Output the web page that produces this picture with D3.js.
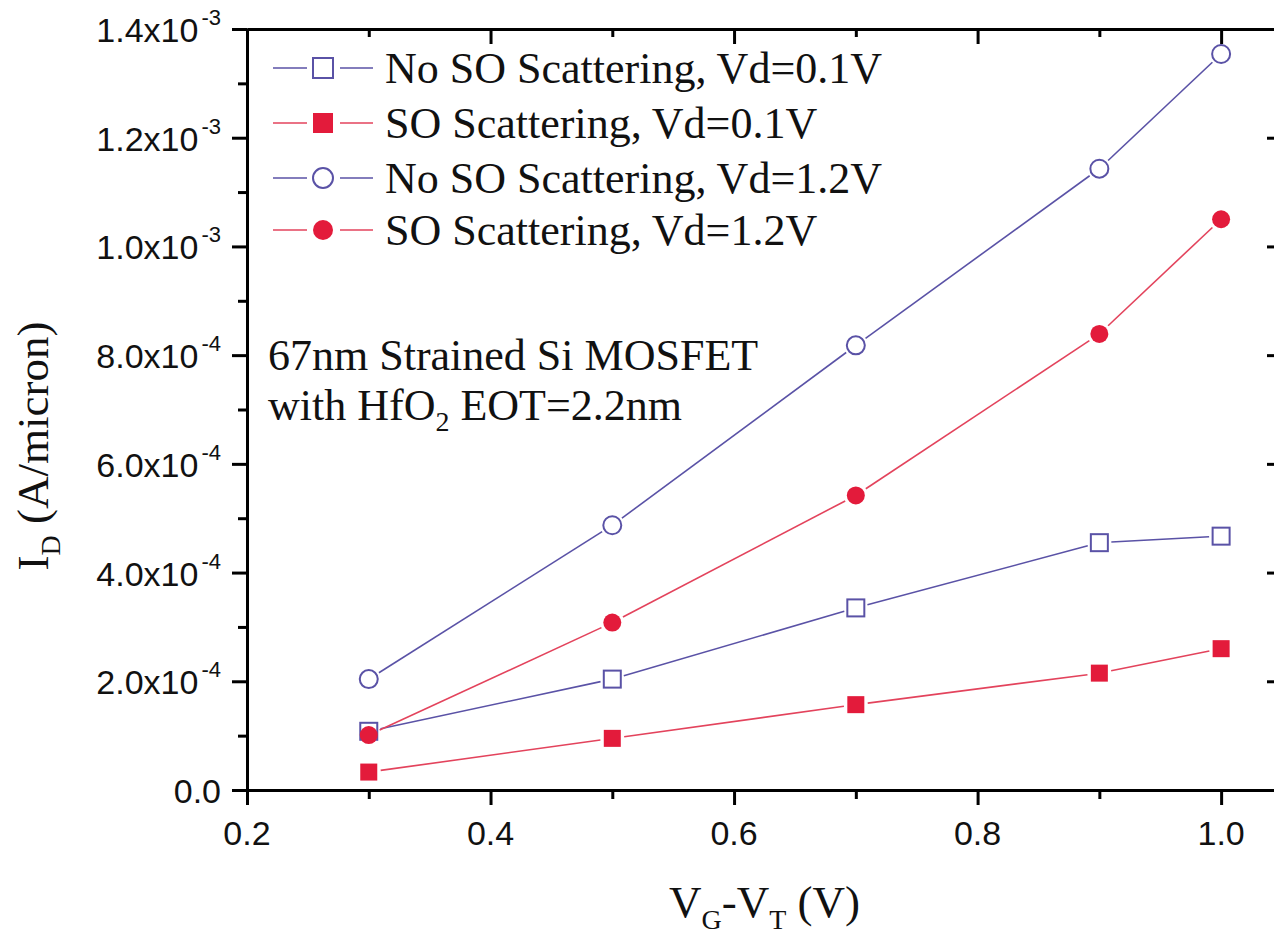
<!DOCTYPE html>
<html>
<head>
<meta charset="utf-8">
<script src="https://cdn.jsdelivr.net/npm/d3@7"></script>
<style>
  html, body { margin: 0; padding: 0; background: #ffffff; }
  svg { display: block; }
</style>
</head>
<body>
<svg id="chart" width="1274" height="938"></svg>
<script>
// ---------- data ----------
const xValues = [0.3, 0.5, 0.7, 0.9, 1.0];
const noSO_Vd01 = [1.08e-4, 2.04e-4, 3.35e-4, 4.55e-4, 4.67e-4];
const SO_Vd01   = [3.3e-5, 9.5e-5, 1.57e-4, 2.15e-4, 2.60e-4];
const noSO_Vd12 = [2.04e-4, 4.87e-4, 8.18e-4, 1.143e-3, 1.354e-3];
const SO_Vd12   = [1.01e-4, 3.08e-4, 5.42e-4, 8.39e-4, 1.050e-3];
const seriesNames = [
  "No SO Scattering, Vd=0.1V",
  "SO Scattering, Vd=0.1V",
  "No SO Scattering, Vd=1.2V",
  "SO Scattering, Vd=1.2V"
];
const xTickValues = [0.2, 0.4, 0.6, 0.8, 1.0];
const xTickLabels = ["0.2", "0.4", "0.6", "0.8", "1.0"];
const xMinorValues = [0.3, 0.5, 0.7, 0.9];
const yTickValues = [0, 2e-4, 4e-4, 6e-4, 8e-4, 1.0e-3, 1.2e-3, 1.4e-3];
const yTickMantissa = ["0.0", "2.0x10", "4.0x10", "6.0x10", "8.0x10", "1.0x10", "1.2x10", "1.4x10"];
const yTickExponent = ["", "-4", "-4", "-4", "-4", "-3", "-3", "-3"];
const yMinorValues = [1e-4, 3e-4, 5e-4, 7e-4, 9e-4, 1.1e-3, 1.3e-3];

// ---------- styling ----------
const PURPLE = "#5a52a6";
const RED = "#e31b3b";
const RED_LINE = "#e3435c";
const SANS = "'Liberation Sans', Arial, Helvetica, sans-serif";
const SERIF = "'Liberation Serif', 'Times New Roman', Times, serif";

const series = [
  { name: seriesNames[0], values: noSO_Vd01, shape: "square", filled: false, color: PURPLE, line: PURPLE },
  { name: seriesNames[1], values: SO_Vd01,   shape: "square", filled: true,  color: RED,    line: RED_LINE },
  { name: seriesNames[2], values: noSO_Vd12, shape: "circle", filled: false, color: PURPLE, line: PURPLE },
  { name: seriesNames[3], values: SO_Vd12,   shape: "circle", filled: true,  color: RED,    line: RED_LINE }
];

const svg = d3.select("#chart");
const pLeft = 247, pRight = 1282, pTop = 29, pBottom = 790;

const x = d3.scaleLinear().domain([0.2, 1.05]).range([pLeft, pRight]);
const y = d3.scaleLinear().domain([0, 1.4e-3]).range([pBottom, pTop]);

// ---------- axes ----------
function styleAxis(g) {
  g.selectAll("path.domain").attr("stroke", "#000").attr("stroke-width", 3);
  g.selectAll(".tick line").attr("stroke", "#000").attr("stroke-width", 3);
  g.selectAll(".tick text").remove();
}
// bottom (outward ticks)
svg.append("g").attr("transform", `translate(0,${pBottom})`)
  .call(d3.axisBottom(x).tickValues(xMinorValues).tickSize(9).tickSizeOuter(0).tickFormat(""))
  .call(styleAxis);
svg.append("g").attr("transform", `translate(0,${pBottom})`)
  .call(d3.axisBottom(x).tickValues(xTickValues).tickSize(15).tickSizeOuter(0).tickFormat(""))
  .call(styleAxis);
// top (inward ticks)
svg.append("g").attr("transform", `translate(0,${pTop})`)
  .call(d3.axisBottom(x).tickValues(xMinorValues).tickSize(8).tickSizeOuter(0).tickFormat(""))
  .call(styleAxis);
svg.append("g").attr("transform", `translate(0,${pTop})`)
  .call(d3.axisBottom(x).tickValues(xTickValues).tickSize(15).tickSizeOuter(0).tickFormat(""))
  .call(styleAxis);
// left (outward ticks)
svg.append("g").attr("transform", `translate(${pLeft},0)`)
  .call(d3.axisLeft(y).tickValues(yMinorValues).tickSize(9).tickSizeOuter(0).tickFormat(""))
  .call(styleAxis);
svg.append("g").attr("transform", `translate(${pLeft},0)`)
  .call(d3.axisLeft(y).tickValues(yTickValues).tickSize(15).tickSizeOuter(0).tickFormat(""))
  .call(styleAxis);
// right (inward ticks)
svg.append("g").attr("transform", `translate(${pRight},0)`)
  .call(d3.axisLeft(y).tickValues(yMinorValues).tickSize(8).tickSizeOuter(0).tickFormat(""))
  .call(styleAxis);
svg.append("g").attr("transform", `translate(${pRight},0)`)
  .call(d3.axisLeft(y).tickValues(yTickValues).tickSize(15).tickSizeOuter(0).tickFormat(""))
  .call(styleAxis);

// x tick labels
svg.append("g").selectAll("text").data(xTickValues).join("text")
  .attr("x", d => x(d)).attr("y", pBottom + 55)
  .attr("text-anchor", "middle")
  .style("font-family", SANS).style("font-size", "34px").attr("fill", "#111")
  .text((d, i) => xTickLabels[i]);

// y tick labels
const yl = svg.append("g").selectAll("text").data(yTickValues).join("text")
  .attr("x", 221).attr("y", d => y(d) + 13)
  .attr("text-anchor", "end")
  .style("font-family", SANS).style("font-size", "34px").attr("fill", "#111");
yl.append("tspan").text((d, i) => yTickMantissa[i]);
yl.append("tspan").attr("dx", 3).attr("dy", -17).style("font-size", "22px")
  .text((d, i) => yTickExponent[i]);

// ---------- data lines (with gaps at symbols) ----------
const gap = 12;
const linesG = svg.append("g");
const marksG = svg.append("g");
series.forEach(s => {
  const pts = xValues.map((xv, i) => [x(xv), y(s.values[i])]);
  const segs = d3.pairs(pts).map(([a, b]) => {
    const dx = b[0] - a[0], dy = b[1] - a[1];
    const len = Math.hypot(dx, dy);
    const ux = dx / len, uy = dy / len;
    return [[a[0] + ux * gap, a[1] + uy * gap], [b[0] - ux * gap, b[1] - uy * gap]];
  });
  linesG.append("g").selectAll("path").data(segs).join("path")
    .attr("d", d => d3.line()(d))
    .attr("stroke", s.line).attr("stroke-width", 1.6).attr("fill", "none");
});
function drawMarker(g, s, cx, cy, size) {
  if (s.shape === "square") {
    g.append("rect")
      .attr("x", cx - size / 2).attr("y", cy - size / 2)
      .attr("width", size).attr("height", size)
      .attr("fill", s.filled ? s.color : "#fff")
      .attr("stroke", s.filled ? "none" : s.color)
      .attr("stroke-width", 2);
  } else {
    g.append("circle")
      .attr("cx", cx).attr("cy", cy).attr("r", size / 2)
      .attr("fill", s.filled ? s.color : "#fff")
      .attr("stroke", s.filled ? "none" : s.color)
      .attr("stroke-width", 2);
  }
}
series.forEach(s => {
  const g = marksG.append("g");
  xValues.forEach((xv, i) => drawMarker(g, s, x(xv), y(s.values[i]), s.shape === "square" ? 17 : 18));
});

// ---------- legend ----------
const legendRowY = [68, 123, 178, 230];
const lg = svg.append("g");
series.forEach((s, i) => {
  const cy = legendRowY[i];
  lg.append("line").attr("x1", 273).attr("x2", 307).attr("y1", cy).attr("y2", cy)
    .attr("stroke", s.line).attr("stroke-width", 1.6);
  lg.append("line").attr("x1", 340).attr("x2", 373).attr("y1", cy).attr("y2", cy)
    .attr("stroke", s.line).attr("stroke-width", 1.6);
  drawMarker(lg, s, 323, cy, 20);
  lg.append("text").attr("x", 385).attr("y", cy + 15)
    .style("font-family", SERIF).style("font-size", "44px").attr("fill", "#111")
    .text(s.name);
});

// ---------- annotation ----------
const ann = svg.append("g").style("font-family", SERIF).style("font-size", "44px").attr("fill", "#111");
ann.append("text").attr("x", 268).attr("y", 370).text("67nm Strained Si MOSFET");
const a2 = ann.append("text").attr("x", 268).attr("y", 420);
a2.append("tspan").text("with HfO");
a2.append("tspan").attr("dy", 11).style("font-size", "28px").text("2");
a2.append("tspan").attr("dy", -11).text(" EOT=2.2nm");

// ---------- axis titles ----------
const xt = svg.append("text").attr("x", (pLeft + pRight) / 2).attr("y", 917)
  .attr("text-anchor", "middle")
  .style("font-family", SERIF).style("font-size", "45px").attr("fill", "#111");
xt.append("tspan").text("V");
xt.append("tspan").attr("dy", 12).style("font-size", "28px").text("G");
xt.append("tspan").attr("dy", -12).text("-V");
xt.append("tspan").attr("dy", 12).style("font-size", "28px").text("T");
xt.append("tspan").attr("dy", -12).text(" (V)");

const yt = svg.append("text")
  .attr("transform", "translate(48,446) rotate(-90)")
  .attr("text-anchor", "middle")
  .style("font-family", SERIF).style("font-size", "45px").attr("fill", "#111");
yt.append("tspan").text("I");
yt.append("tspan").attr("dy", 12).style("font-size", "28px").text("D");
yt.append("tspan").attr("dy", -12).text(" (A/micron)");
</script>
</body>
</html>
